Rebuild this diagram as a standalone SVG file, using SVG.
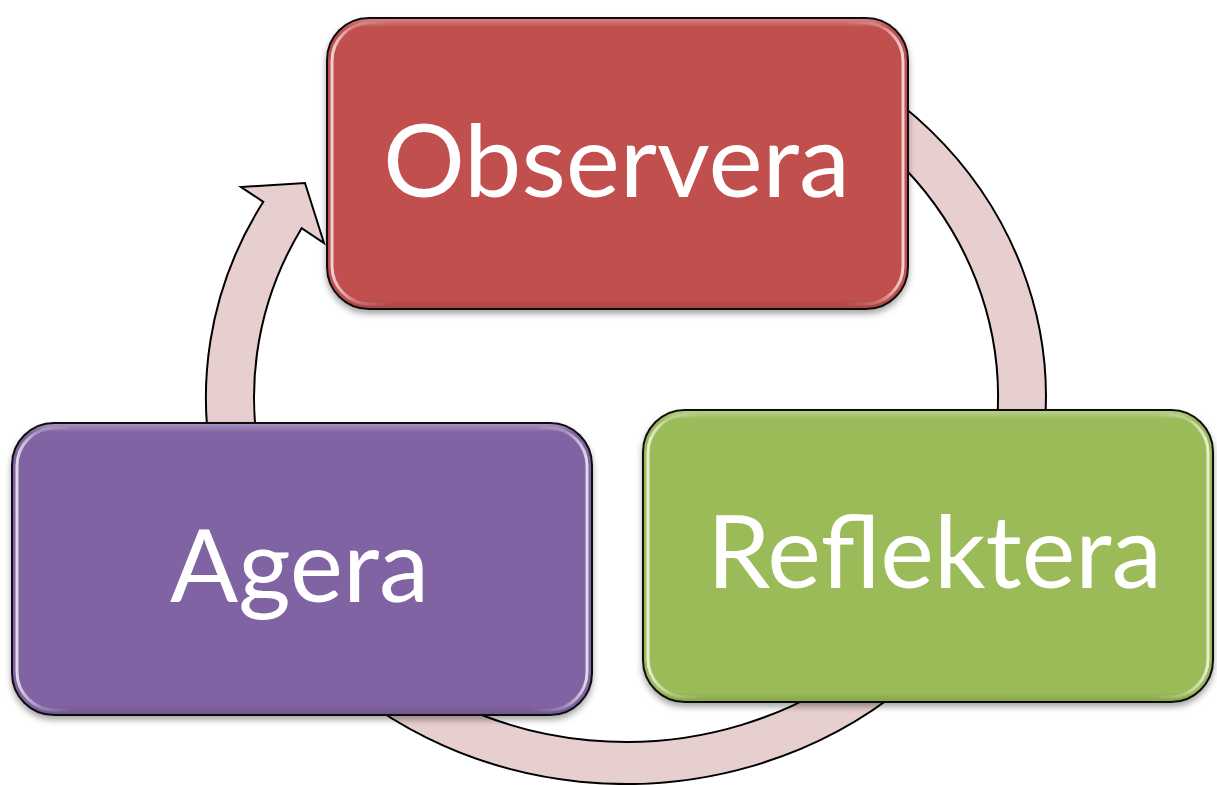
<svg xmlns="http://www.w3.org/2000/svg" width="1217" height="785" viewBox="0 0 1217 785">
  <style>
    .ring { fill: #E8CFCF; stroke: #000; stroke-width: 2; stroke-linejoin: miter; }
    .box { stroke: #111; stroke-width: 2; }
    .gloss { fill: none; stroke: url(#edgeGloss); stroke-width: 3; }
    .label { font-family: "Lato", "Open Sans", "Liberation Sans", sans-serif; font-size: 101px; fill: #FFFFFF; }
  </style>
  <defs>
    <filter id="shadow" x="-10%" y="-10%" width="120%" height="125%">
      <feDropShadow dx="0" dy="4" stdDeviation="3" flood-color="#000" flood-opacity="0.35"/>
    </filter>
    <linearGradient id="edgeGloss" x1="0" y1="0" x2="1" y2="0">
      <stop offset="0" stop-color="#fff" stop-opacity="0.75"/>
      <stop offset="0.04" stop-color="#fff" stop-opacity="0.25"/>
      <stop offset="0.1" stop-color="#fff" stop-opacity="0"/>
      <stop offset="0.9" stop-color="#fff" stop-opacity="0"/>
      <stop offset="0.96" stop-color="#fff" stop-opacity="0.25"/>
      <stop offset="1" stop-color="#fff" stop-opacity="0.75"/>
    </linearGradient>
    <linearGradient id="topGloss" x1="0" y1="0" x2="0" y2="1">
      <stop offset="0" stop-color="#fff" stop-opacity="0.3"/>
      <stop offset="0.03" stop-color="#fff" stop-opacity="0"/>
      <stop offset="0.97" stop-color="#000" stop-opacity="0"/>
      <stop offset="1" stop-color="#000" stop-opacity="0.12"/>
    </linearGradient>
  </defs>

  <g id="connectors">
    <path class="ring" d="M 800 44.8 A 420 387 0 1 1 263.3 201.8 L 241 187 L 305 183 L 324 243 L 301.6 228.2 A 372 345 0 1 0 780 82.9 Z"/>
  </g>

  <g id="node-observera">
    <rect class="box" x="327" y="18" width="581" height="291" rx="42" ry="42" fill="#C0504D" filter="url(#shadow)"/>
    <rect x="328" y="19" width="579" height="289" rx="41" ry="41" fill="url(#topGloss)"/>
    <rect class="gloss" x="332" y="23" width="571" height="281" rx="38" ry="38"/>
    <text class="label" x="383" y="197" textLength="467" lengthAdjust="spacingAndGlyphs">Observera</text>
  </g>

  <g id="node-reflektera">
    <rect class="box" x="643" y="410" width="570" height="292" rx="42" ry="42" fill="#9BBB59" filter="url(#shadow)"/>
    <rect x="644" y="411" width="568" height="290" rx="41" ry="41" fill="url(#topGloss)"/>
    <rect class="gloss" x="648" y="415" width="560" height="282" rx="38" ry="38"/>
    <text class="label" x="707" y="588" textLength="455" lengthAdjust="spacingAndGlyphs">Reflektera</text>
  </g>

  <g id="node-agera">
    <rect class="box" x="12" y="423" width="580" height="292" rx="42" ry="42" fill="#8064A2" filter="url(#shadow)"/>
    <rect x="13" y="424" width="578" height="290" rx="41" ry="41" fill="url(#topGloss)"/>
    <rect class="gloss" x="17" y="428" width="570" height="282" rx="38" ry="38"/>
    <text class="label" x="170" y="602" textLength="259" lengthAdjust="spacingAndGlyphs">Agera</text>
  </g>
</svg>
